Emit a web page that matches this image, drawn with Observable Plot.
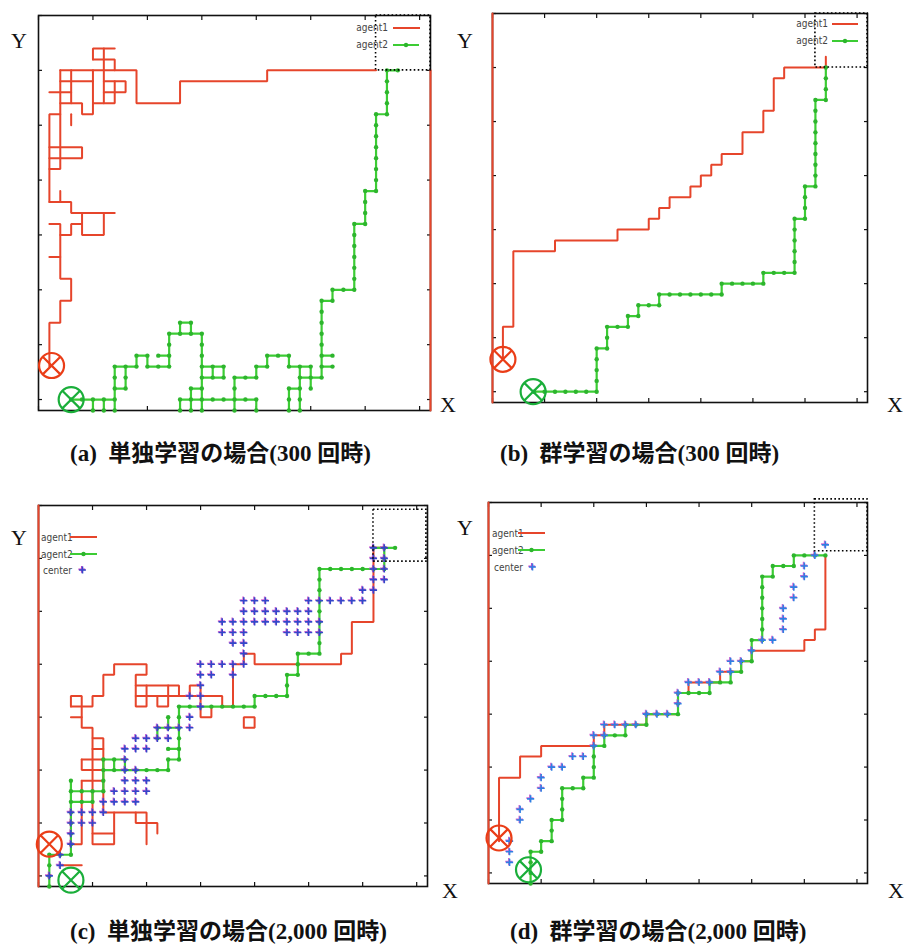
<!DOCTYPE html>
<html><head><meta charset="utf-8">
<script src="https://cdn.jsdelivr.net/npm/d3@7"></script>
<script src="https://cdn.jsdelivr.net/npm/@observablehq/plot@0.6"></script>
<style>
html,body{margin:0;padding:0;background:#fff;}
#wrap{position:relative;width:904px;height:947px;overflow:hidden;background:#fff;}
#wrap svg.plot{position:absolute;overflow:visible;background:transparent;}
#overlay{position:absolute;left:0;top:0;}
</style></head>
<body><div id="wrap"></div>
<script>
// ---------- tick values ----------
const xTicks = [0, 5, 10, 15, 20, 25, 30, 35];
const yTicks = [0, 5, 10, 15, 20, 25, 30, 35];

// ---------- (a) 単独学習 300回 ----------
const aAgent1 = [
  [[1,3],[1,7],[2,7],[2,9],[3,9],[3,11],[2,11],[2,16],[1,16]],
  [[2,15],[3,15],[3,16],[4,16]],
  [[1,13],[2,13]],
  [[4,17],[4,15],[6,15],[6,17]],
  [[1,18],[3,18],[3,17],[7,17]],
  [[2,18],[2,19]],
  [[1,18],[1,26],[2,26]],
  [[1,21],[2,21],[2,30]],
  [[1,22],[4,22],[4,23],[1,23]],
  [[3,25],[3,26]],
  [[2,27],[4,27],[4,26],[5,26],[5,30]],
  [[3,27],[3,30]],
  [[1,28],[3,28]],
  [[2,29],[5,29]],
  [[2,30],[9,30],[9,27],[13,27],[13,29],[21,29],[21,30],[31,30]],
  [[36,30],[36,-1]],
  [[5,31],[5,32],[7,32]],
  [[5,31],[7,31],[7,30]],
  [[6,32],[6,27]],
  [[6,29],[8,29],[8,28],[6,28]],
  [[5,27],[7,27],[7,29]]
];
const aAgent2 = [
  [[3,0],[7,0],[7,3],[9,3],[9,4],[10,4],[10,3],[12,3],[12,6],[15,6],[15,-1]],
  [[5,0],[5,-1]], [[6,0],[6,-1]], [[7,0],[7,-1]],
  [[7,1],[8,1],[8,3]],
  [[11,4],[12,4]],
  [[13,6],[13,7],[14,7],[14,6]],
  [[14,-1],[14,1],[15,1]],
  [[15,3],[17,3],[17,2],[15,2]],
  [[16,3],[16,2]],
  [[13,-1],[13,0],[20,0],[20,-1]],
  [[18,-1],[18,2],[20,2],[20,3],[21,3],[21,4],[23,4],[23,3],[25,3],[25,1]],
  [[24,3],[24,-1]],
  [[23,-1],[23,1],[24,1]],
  [[24,2],[26,2]],
  [[26,2],[26,9],[27,9],[27,10],[29,10],[29,16],[30,16],[30,19],[31,19],[31,26],[32,26],[32,30],[33,30]],
  [[26,4],[27,4]],
  [[26,3],[27,3]]
];
const aStarts = [[1.2,3.1,"agent1"],[3,0,"agent2"]];
const aGoal = [31,36,30,35];

// ---------- (b) 群学習 300回 ----------
const bAgent1 = [
  [[0,-1],[0,35]],
  [[1,3],[1,6],[2,6],[2,13],[6,13],[6,14],[12,14],[12,15],[15,15],[15,16],[16,16],[16,17],[17,17],[17,18],[19,18],[19,19],[20,19],[20,20],[21,20],[21,21],[22,21],[22,22],[24,22],[24,24],[26,24],[26,26],[27,26],[27,29],[28,29],[28,30],[32,30],[32,31]]
];
const bAgent2 = [
  [[4,0],[10,0],[10,4],[11,4],[11,6],[13,6],[13,7],[14,7],[14,8],[16,8],[16,9],[22,9],[22,10],[26,10],[26,11],[29,11],[29,16],[30,16],[30,19],[31,19],[31,27],[32,27],[32,30]]
];
const bStarts = [[1,3,"agent1"],[3.9,0,"agent2"]];
const bGoal = [31,36,30,35];

// ---------- (c) 単独学習 2,000回 ----------
const cAgent1 = [
  [[0,-1],[0,35]],
  [[3,16],[3,17],[4,17],[4,14],[5,14],[5,13],[6,13],[6,6],[10,6],[10,3]],
  [[3,16],[5,16],[5,17],[6,17],[6,19],[7,19],[7,20],[10,20],[10,19],[9,19],[9,16],[10,16],[10,18]],
  [[3,15],[4,15]],
  [[5,12],[6,12]],
  [[4,11],[6,11]],
  [[4,11],[4,10],[6,10]],
  [[5,13],[5,3],[7,3],[7,6]],
  [[5,4],[7,4]],
  [[4,9],[6,9]],
  [[4,9],[4,3],[3,3]],
  [[9,6],[9,5],[11,5],[11,4]],
  [[2,1],[4,1]],
  [[9,18],[13,18],[13,17]],
  [[9,17],[17,17],[17,16],[18,16],[18,20],[19,20],[19,21],[20,21],[20,20],[28,20],[28,21],[29,21],[29,24],[31,24],[31,31],[32,31]],
  [[11,17],[11,16],[12,16],[12,18]],
  [[14,17],[14,18],[15,18],[15,15],[16,15],[16,16]],
  [[19,14],[20,14],[20,15],[19,15],[19,14]]
];
const cAgent2 = [
  [[1,-1],[1,2],[3,2],[3,9]],
  [[3,8],[6,8],[6,10],[12,10],[12,11],[13,11],[13,16],[20,16],[20,17],[23,17],[23,19],[24,19],[24,21],[26,21],[26,29],[32,29],[32,31],[33,31]],
  [[31,31],[32,31]],
  [[3,7],[5,7],[5,8]],
  [[6,10],[6,11],[8,11],[8,10]],
  [[7,11],[7,10]],
  [[11,13],[11,14],[13,14]],
  [[12,14],[12,15]],
  [[12,12],[13,12]]
];
const cCenterRows = [
  [0,[1]],[1,[2]],[2,[2]],[3,[3]],[4,[3]],[5,[3,4,5]],[6,[3,4,5,6]],[7,[6,7,8,9]],
  [8,[7,8,9,10]],[9,[8,9,10]],[10,[8,9]],[11,[8]],[12,[8,9,10]],[13,[9,10,11,12]],
  [14,[11,12,13,14]],[15,[14]],[16,[15]],[17,[14,15]],[18,[15]],[19,[15,16,18]],
  [20,[15,16,17,18,19]],[21,[19]],[22,[18,19]],[23,[17,18,19,23,24,25,26]],
  [24,[17,18,19,20,21,22,23,24,25,26]],[25,[19,20,21,22,23,24,25]],
  [26,[19,20,21,25,26,27,28,29,30]],[27,[30,31]],[28,[31,32]],[29,[31,32]],[30,[31,32]],[31,[31,32]]
];
const cStarts = [[1,3,"agent1"],[3,-0.4,"agent2"]];
const cGoal = [31,35.9,29.7,34.6];

// ---------- (d) 群学習 2,000回 ----------
const dAgent1 = [
  [[0,-1],[0,35]],
  [[1,3],[1,9],[3,9],[3,11],[5,11],[5,12],[10,12],[10,13],[11,13],[11,14],[15,14],[15,15],[18,15],[18,17],[19,17],[19,18],[21,18],[22,18],[22,19],[24,19],[24,20],[25,20],[25,21],[30,21],[30,22],[31,22],[31,23],[32,23],[32,30]]
];
const dAgent2 = [
  [[4,-1],[4,2],[5,2],[5,3],[6,3],[6,5],[7,5],[7,8],[9,8],[9,9],[10,9],[10,12],[11,12],[11,13],[13,13],[13,14],[15,14],[15,15],[18,15],[18,17],[21,17],[21,18],[23,18],[23,19],[24,19],[24,20],[25,20],[25,22],[26,22],[26,28],[27,28],[27,29],[29,29],[29,30],[32,30]]
];
const dCenter = [
  [2,1],[2,2],[2,3],[3,5],[3,6],[4,7],[5,8],[5,9],[6,10],[7,10],[8,11],[9,11],[10,12],[10,13],
  [11,13],[11,14],[12,14],[13,14],[14,14],[15,15],[16,15],[17,15],[18,16],[18,17],[19,18],[20,18],
  [21,18],[22,19],[23,19],[23,20],[24,20],[25,21],[26,22],[27,22],[28,23],[28,24],[28,25],[29,26],
  [29,27],[30,28],[30,29],[31,30],[32,31]
];
const dStarts = [[1,3.3,"agent1"],[3.8,0.3,"agent2"]];
const dGoal = [31,36,30.4,35.3];

// ---------- captions / labels ----------
const captions = ["(a)  単独学習の場合(300 回時)", "(b)  群学習の場合(300 回時)",
                  "(c)  単独学習の場合(2,000 回時)", "(d)  群学習の場合(2,000 回時)"];
const seriesNames = ["agent1", "agent2", "center"];

// ---------- styling ----------
const RED = "#e6452b", GREEN = "#3ccc34", GREEN_DOT = "#2db52d", MAGENTA = "#c844c8";

const otimes = {
  draw(ctx, size) {
    const r = Math.sqrt(size / Math.PI);
    ctx.moveTo(r, 0); ctx.arc(0, 0, r, 0, 2 * Math.PI);
    const k = r * Math.SQRT1_2;
    ctx.moveTo(-k, -k); ctx.lineTo(k, k);
    ctx.moveTo(-k, k); ctx.lineTo(k, -k);
  }
};
const cross = {
  draw(ctx, size) {
    const r = Math.sqrt(size / Math.PI);
    ctx.moveTo(-r, 0); ctx.lineTo(r, 0);
    ctx.moveTo(0, -r); ctx.lineTo(0, r);
  }
};

function flat(segs) {
  return segs.flatMap((s, i) => s.map(([x, y]) => ({x, y, id: i})));
}
function steps(segs) {
  const m = new Map();
  for (const s of segs) {
    for (let i = 0; i < s.length; i++) {
      const [x, y] = s[i];
      m.set(x + "," + y, {x, y});
      if (i > 0) {
        const [px, py] = s[i - 1];
        const n = Math.max(Math.abs(x - px), Math.abs(y - py));
        for (let k = 1; k < n; k++) {
          const qx = px + (x - px) * k / n, qy = py + (y - py) * k / n;
          m.set(qx + "," + qy, {x: qx, y: qy});
        }
      }
    }
  }
  return [...m.values()];
}

const panels = [
  {frame: [38, 15, 430, 410], a1: aAgent1, a2: aAgent2, center: null, starts: aStarts, goal: aGoal},
  {frame: [492, 13, 867, 402], a1: bAgent1, a2: bAgent2, center: null, starts: bStarts, goal: bGoal},
  {frame: [38, 505, 427, 886], a1: cAgent1, a2: cAgent2, center: cCenterRows.flatMap(([y, xs]) => xs.map(x => [x, y])), centerColor: "#3347c9", starts: cStarts, goal: cGoal},
  {frame: [488, 502, 867, 883], a1: dAgent1, a2: dAgent2, center: dCenter, centerColor: "#2f7fe2", starts: dStarts, goal: dGoal}
];

const wrap = document.getElementById("wrap");
const M = 14;
for (const p of panels) {
  const [L, T, R, B] = p.frame;
  const tickOpts = {tickSize: -4, tickFormat: () => "", label: null, stroke: "#111", strokeWidth: 1.2};
  const marks = [
    Plot.frame({stroke: "#111", strokeWidth: 1.6}),
    Plot.axisX(xTicks, {anchor: "bottom", ...tickOpts}),
    Plot.axisX(xTicks, {anchor: "top", ...tickOpts}),
    Plot.axisY(yTicks, {anchor: "left", ...tickOpts}),
    Plot.axisY(yTicks, {anchor: "right", ...tickOpts}),
    Plot.line(flat(p.a1), {x: "x", y: "y", z: "id", stroke: RED, strokeWidth: 2, strokeLinejoin: "miter"}),
    Plot.line(flat(p.a2), {x: "x", y: "y", z: "id", stroke: GREEN, strokeWidth: 2.2, strokeLinejoin: "miter"}),
    Plot.dot(steps(p.a2), {x: "x", y: "y", r: 2.2, fill: GREEN_DOT, stroke: "none"})
  ];
  if (p.center) {
    marks.push(Plot.dot(p.center, {x: d => d[0], y: d => d[1], symbol: cross, r: 3.6, fill: "none", stroke: MAGENTA, strokeWidth: 1.7, dx: -0.7, dy: -0.7, strokeOpacity: 0.8}));
    marks.push(Plot.dot(p.center, {x: d => d[0], y: d => d[1], symbol: cross, r: 3.6, fill: "none", stroke: p.centerColor, strokeWidth: 1.6}));
  }
  marks.push(Plot.rect([p.goal], {x1: d => d[0], x2: d => d[1], y1: d => d[2], y2: d => d[3], fill: "none", stroke: "#000", strokeWidth: 1.6, strokeDasharray: "1.6,2.4"}));
  marks.push(Plot.dot(p.starts, {x: d => d[0], y: d => d[1], symbol: otimes, r: 12.5, fill: "none",
    stroke: d => d[2] === "agent1" ? "#ea3d17" : "#1aae3a", strokeWidth: 2.2}));
  const svg = Plot.plot({
    width: (R - L) + 2 * M, height: (B - T) + 2 * M,
    marginLeft: M, marginRight: M, marginTop: M, marginBottom: M,
    x: {domain: [0, 36], axis: null},
    y: {domain: [-1, 35], axis: null},
    style: {background: "transparent", overflow: "visible"},
    marks
  });
  svg.classList.add("plot");
  svg.style.left = (L - M) + "px";
  svg.style.top = (T - M) + "px";
  wrap.appendChild(svg);
}

// ---------- overlay: axis letters, legends, captions ----------
const ov = d3.select(wrap).append("svg").attr("id", "overlay").attr("width", 904).attr("height", 947);
const serif = "'Liberation Serif','DejaVu Serif','Noto Serif',serif";
const legendFont = "'Liberation Sans Narrow','DejaVu Sans Condensed','Liberation Sans',sans-serif";

const letters = [["Y", 11, 48], ["X", 440, 412], ["Y", 457, 48], ["X", 887, 412],
                 ["Y", 11, 545], ["X", 442, 898], ["Y", 457, 535], ["X", 888, 898]];
ov.selectAll("text.ax").data(letters).join("text").attr("class", "ax")
  .attr("x", d => d[1]).attr("y", d => d[2]).text(d => d[0])
  .attr("font-family", serif).attr("font-size", 22).attr("fill", "#111");

function legendItem(tx, ty, anchor, name, lx1, lx2, ly, kind, ccol) {
  ov.append("text").attr("x", tx).attr("y", ty).attr("text-anchor", anchor)
    .attr("font-family", legendFont).attr("font-size", 10).attr("fill", "#444").text(name);
  if (kind === "agent1") {
    ov.append("line").attr("x1", lx1).attr("x2", lx2).attr("y1", ly).attr("y2", ly).attr("stroke", RED).attr("stroke-width", 2);
  } else if (kind === "agent2") {
    ov.append("line").attr("x1", lx1).attr("x2", lx2).attr("y1", ly).attr("y2", ly).attr("stroke", GREEN).attr("stroke-width", 2);
    ov.append("circle").attr("cx", (lx1 + lx2) / 2).attr("cy", ly).attr("r", 2.2).attr("fill", GREEN_DOT);
  } else {
    const cx = (lx1 + lx2) / 2;
    ov.append("path").attr("d", `M${cx - 3.4},${ly}H${cx + 3.4}M${cx},${ly - 3.4}V${ly + 3.4}`)
      .attr("stroke", MAGENTA).attr("stroke-width", 1.7).attr("transform", "translate(-0.7,-0.7)");
    ov.append("path").attr("d", `M${cx - 3.4},${ly}H${cx + 3.4}M${cx},${ly - 3.4}V${ly + 3.4}`)
      .attr("stroke", ccol).attr("stroke-width", 1.6);
  }
}
// (a)
legendItem(388, 31, "end", seriesNames[0], 393, 420, 28, "agent1");
legendItem(388, 48, "end", seriesNames[1], 393, 419, 45, "agent2");
// (b)
legendItem(828, 27, "end", seriesNames[0], 832, 858, 24, "agent1");
legendItem(828, 44, "end", seriesNames[1], 832, 858, 41, "agent2");
// (c)
legendItem(41, 541, "start", seriesNames[0], 70, 97, 537, "agent1");
legendItem(41, 558, "start", seriesNames[1], 70, 97, 554, "agent2");
legendItem(43, 574, "start", seriesNames[2], 70, 95, 570, "center", "#3347c9");
// (d)
legendItem(492, 537, "start", seriesNames[0], 518, 545, 533, "agent1");
legendItem(492, 554, "start", seriesNames[1], 518, 545, 550, "agent2");
legendItem(494, 571, "start", seriesNames[2], 520, 545, 567, "center", "#2f7fe2");

const capPos = [[70, 461], [500, 461], [70, 939], [510, 939]];
ov.selectAll("text.cap").data(captions).join("text").attr("class", "cap")
  .attr("x", (d, i) => capPos[i][0]).attr("y", (d, i) => capPos[i][1])
  .attr("font-family", "'Liberation Serif','Noto Sans CJK JP',serif")
  .attr("font-weight", "bold").attr("font-size", 23).attr("fill", "#111")
  .attr("xml:space", "preserve").style("white-space", "pre").text(d => d);
</script></body></html>
